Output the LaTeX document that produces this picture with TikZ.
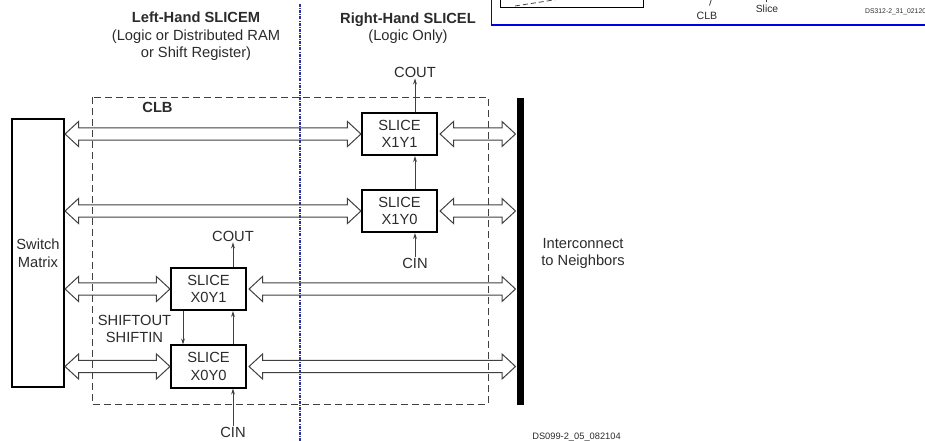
\documentclass[tikz,border=0pt]{standalone}
\usepackage{fontspec}
\setmainfont{Liberation Sans}
\usetikzlibrary{calc,arrows.meta}
\definecolor{txt}{HTML}{2B2B2B}
\definecolor{ln}{HTML}{404040}
\definecolor{bl}{RGB}{40,50,160}
\newcommand\dblarrow[2]{\draw[harrow] let \p1=(#1), \p2=(#2) in (\x1,\y1) -- (\x1+13.5pt,\y1+12.5pt) -- (\x1+13.5pt,\y1+6.2pt) -- (\x2-13.5pt,\y1+6.2pt) -- (\x2-13.5pt,\y1+12.5pt) -- (\x2,\y1) -- (\x2-13.5pt,\y1-12.5pt) -- (\x2-13.5pt,\y1-6.2pt) -- (\x1+13.5pt,\y1-6.2pt) -- (\x1+13.5pt,\y1-12.5pt) -- cycle;}
\begin{document}
\begin{tikzpicture}[x=1pt,y=-1pt,
  font=\fontsize{14.7}{17.5}\selectfont,
  every node/.style={text=txt, inner sep=1pt},
  slicebox/.style={draw=black, line width=1.6pt, minimum width=75.5pt, minimum height=42.5pt, align=center},
  harrow/.style={draw=ln, line width=1pt, line join=miter},
  sig/.style={draw=ln, line width=0.8pt, -{Stealth[length=6pt,width=3.8pt]}},
  lbl/.style={align=center},
  small/.style={font=\fontsize{9.3}{11}\selectfont}]
\useasboundingbox (0,0) rectangle (925,441);
\clip (0,0) rectangle (925,441);

% fragment of another figure at the top right
\draw[blue!90!black, line width=1.3pt] (491.5,-5) -- (491.5,25) -- (930,25);
\draw[black, line width=1pt] (500.5,-5) -- (500.5,7.5) -- (643,7.5) -- (643,-5);
\draw[ln, line width=0.8pt, dash pattern=on 5pt off 3pt] (515,6) -- (560,-1);
\draw[ln, line width=0.8pt] (711.5,-1) -- (709.5,5.5);
\draw[ln, line width=0.8pt] (766.5,-1) -- (766.5,2);
\node[font=\fontsize{10.6}{12}\selectfont] (fclb) at (707,15.5) {CLB};
\node[font=\fontsize{10.3}{12}\selectfont] (fslice) at (767,9) {Slice};
\node[font=\fontsize{6.8}{8}\selectfont, anchor=west] (fds) at (864,12) {DS312-2\_31\_021205};

% headings
\node[lbl] (lhead) at (196,36.5) {\textbf{Left-Hand SLICEM}\\(Logic or Distributed RAM\\or Shift Register)};
\node[lbl] (rhead) at (408,28) {\textbf{Right-Hand SLICEL}\\(Logic Only)};

% blue divider
\draw[bl, line width=1.2pt, dash pattern=on 3pt off 1.2pt on 0.8pt off 1.2pt] (300,4) -- (300,445);

% CLB dashed frame
\draw[ln, line width=0.8pt, dash pattern=on 7pt off 4pt] (92,97) rectangle (488,404);
\node (clb) at (157.5,107) {\textbf{CLB}};

% switch matrix
\node[draw=black, line width=1.6pt, minimum width=52.5pt, minimum height=268.5pt, align=center] (sm) at (38,253) {Switch\\Matrix};

% interconnect bar
\node[fill=black, minimum width=7pt, minimum height=307pt, inner sep=0pt, outer sep=1.5pt] (bar) at (520.5,251.5) {};
\node[lbl] (inter) at (583,253.5) {Interconnect\\to Neighbors};

% slices
\node[slicebox] (x1y1) at (399.5,134) {SLICE\\X1Y1};
\node[slicebox] (x1y0) at (399.5,211) {SLICE\\X1Y0};
\node[slicebox] (x0y1) at (208.5,289) {SLICE\\X0Y1};
\node[slicebox] (x0y0) at (208.5,366.5) {SLICE\\X0Y0};

% double arrows
\dblarrow{sm.east |- x1y1}{x1y1.west}
\dblarrow{$(x1y1.east)+(2,0)$}{bar.west |- x1y1}
\dblarrow{sm.east |- x1y0}{x1y0.west}
\dblarrow{$(x1y0.east)+(2,0)$}{bar.west |- x1y0}
\dblarrow{sm.east |- x0y1}{x0y1.west}
\dblarrow{$(x0y1.east)+(2,0)$}{bar.west |- x0y1}
\dblarrow{sm.east |- x0y0}{x0y0.west}
\dblarrow{$(x0y0.east)+(2,0)$}{bar.west |- x0y0}

% carry / shift signals
\coordinate (cR) at (415,0);
\coordinate (cL) at (233,0);
\coordinate (sR) at (183,0);
\node (cout1) at (415,72) {COUT};
\node (cin1) at (415,263) {CIN};
\node (cout0) at (233,236) {COUT};
\node (cin0) at (233,432) {CIN};
\node[lbl] (shift) at (134.5,329) {SHIFTOUT\\SHIFTIN};

\draw[sig] (cR |- x1y1.north) -- (cout1.south);
\draw[sig] (cR |- x1y0.north) -- (cR |- x1y1.south);
\draw[sig] (cin1.north) -- (cR |- x1y0.south);
\draw[sig] (cL |- x0y1.north) -- (cout0.south);
\draw[sig] (cL |- x0y0.north) -- (cL |- x0y1.south);
\draw[sig] (cin0.north) -- (cL |- x0y0.south);
\draw[sig] (sR |- x0y1.south) -- (sR |- x0y0.north);

\node[small] (ds) at (576.5,437) {DS099-2\_05\_082104};
\end{tikzpicture}
\end{document}
